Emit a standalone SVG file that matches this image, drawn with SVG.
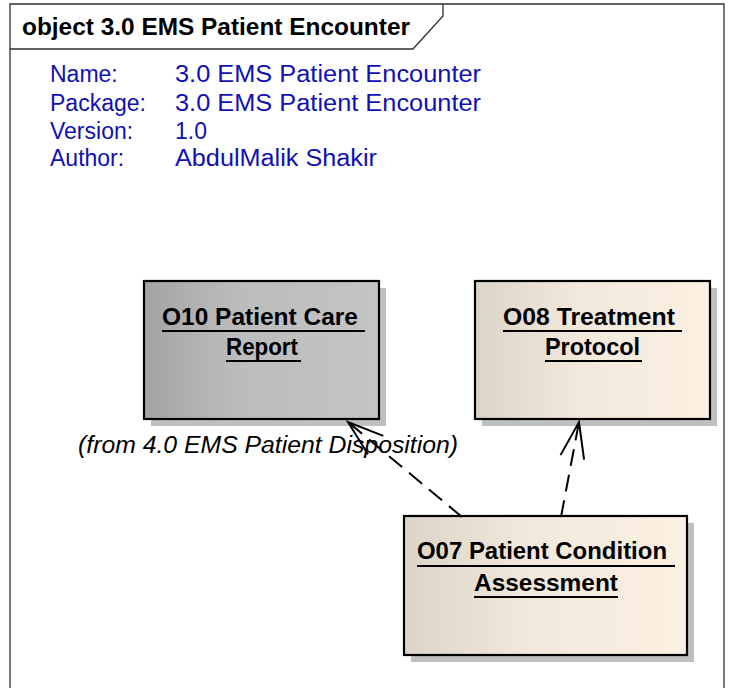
<svg xmlns="http://www.w3.org/2000/svg" width="734" height="688" viewBox="0 0 734 688">
<style>
.frame{fill:none;stroke:#303030;stroke-width:1.3}
.meta{font-family:"Liberation Sans",Arial,sans-serif;font-size:23px;fill:#1010B4}
.title{font-family:"Liberation Sans",Arial,sans-serif;font-size:23px;font-weight:bold;fill:#000}
.lbl{font-family:"Liberation Sans",Arial,sans-serif;font-size:23px;font-weight:bold;fill:#000;text-anchor:middle}
.ul{stroke:#000;stroke-width:2}
.box{stroke:#000;stroke-width:2.2}
.shadow{fill:#BFBFBF}
.from{font-family:"Liberation Sans",Arial,sans-serif;font-size:23px;font-style:italic;fill:#000}
.dep{fill:none;stroke:#000;stroke-width:2;stroke-dasharray:17 9;marker-end:url(#open)}
</style>
<defs>
<linearGradient id="gray" x1="0" y1="0" x2="1" y2="0">
<stop offset="0" stop-color="#A4A4A4"/>
<stop offset="0.4" stop-color="#BCBCBC"/>
<stop offset="1" stop-color="#C4C4C4"/>
</linearGradient>
<linearGradient id="beige" x1="0" y1="0" x2="1" y2="0">
<stop offset="0" stop-color="#DCD4C8"/>
<stop offset="0.45" stop-color="#F2E9DC"/>
<stop offset="1" stop-color="#FBF0E2"/>
</linearGradient>
<marker id="open" markerUnits="userSpaceOnUse" markerWidth="80" markerHeight="80" refX="0" refY="0" orient="auto" overflow="visible">
<path d="M-36,-12 L0,0 L-36,12" fill="none" stroke="#000" stroke-width="2" stroke-dasharray="none"/>
</marker>
</defs>
<g id="frame">
<path class="frame" d="M10,688 L10,4 L724,4 L724,688"/>
<path class="frame" d="M10,49 L413,49 L443,16 L443,4"/>
<text class="title" x="22" y="35" textLength="388" lengthAdjust="spacingAndGlyphs">object 3.0 EMS Patient Encounter</text>
</g>
<g id="meta">
<text class="meta" x="50" y="82">Name:</text>
<text class="meta" x="175" y="82" textLength="306" lengthAdjust="spacingAndGlyphs">3.0 EMS Patient Encounter</text>
<text class="meta" x="50" y="111">Package:</text>
<text class="meta" x="175" y="111" textLength="306" lengthAdjust="spacingAndGlyphs">3.0 EMS Patient Encounter</text>
<text class="meta" x="50" y="139">Version:</text>
<text class="meta" x="175" y="139">1.0</text>
<text class="meta" x="50" y="166">Author:</text>
<text class="meta" x="175" y="166" textLength="202" lengthAdjust="spacingAndGlyphs">AbdulMalik Shakir</text>
</g>
<g id="O10">
<rect class="shadow" x="151" y="288" width="235" height="138"/>
<rect class="box" x="144" y="281" width="235" height="138" fill="url(#gray)"/>
<text class="lbl" x="260" y="325" textLength="196" lengthAdjust="spacingAndGlyphs">O10 Patient Care</text>
<line class="ul" x1="162" y1="331" x2="365" y2="331"/>
<text class="lbl" x="262" y="355" textLength="72" lengthAdjust="spacingAndGlyphs">Report</text>
<line class="ul" x1="226" y1="361" x2="301" y2="361"/>
<text class="from" x="78" y="453" textLength="380" lengthAdjust="spacingAndGlyphs">(from 4.0 EMS Patient Disposition)</text>
</g>
<g id="O08">
<rect class="shadow" x="482" y="288" width="235" height="138"/>
<rect class="box" x="475" y="281" width="235" height="138" fill="url(#beige)"/>
<text class="lbl" x="589" y="325" textLength="172" lengthAdjust="spacingAndGlyphs">O08 Treatment</text>
<line class="ul" x1="503" y1="331" x2="682" y2="331"/>
<text class="lbl" x="592.5" y="355" textLength="95" lengthAdjust="spacingAndGlyphs">Protocol</text>
<line class="ul" x1="545" y1="361" x2="642" y2="361"/>
</g>
<g id="O07">
<rect class="shadow" x="411" y="523" width="283" height="139"/>
<rect class="box" x="404" y="516" width="283" height="139" fill="url(#beige)"/>
<text class="lbl" x="542" y="559" textLength="250" lengthAdjust="spacingAndGlyphs">O07 Patient Condition</text>
<line class="ul" x1="417" y1="566" x2="675" y2="566"/>
<text class="lbl" x="546" y="591" textLength="144" lengthAdjust="spacingAndGlyphs">Assessment</text>
<line class="ul" x1="474" y1="597" x2="618" y2="597"/>
</g>
<g id="connectors">
<path class="dep" d="M462,517 L348,422"/>
<path class="dep" d="M561,517 L579,422"/>
</g>
</svg>
